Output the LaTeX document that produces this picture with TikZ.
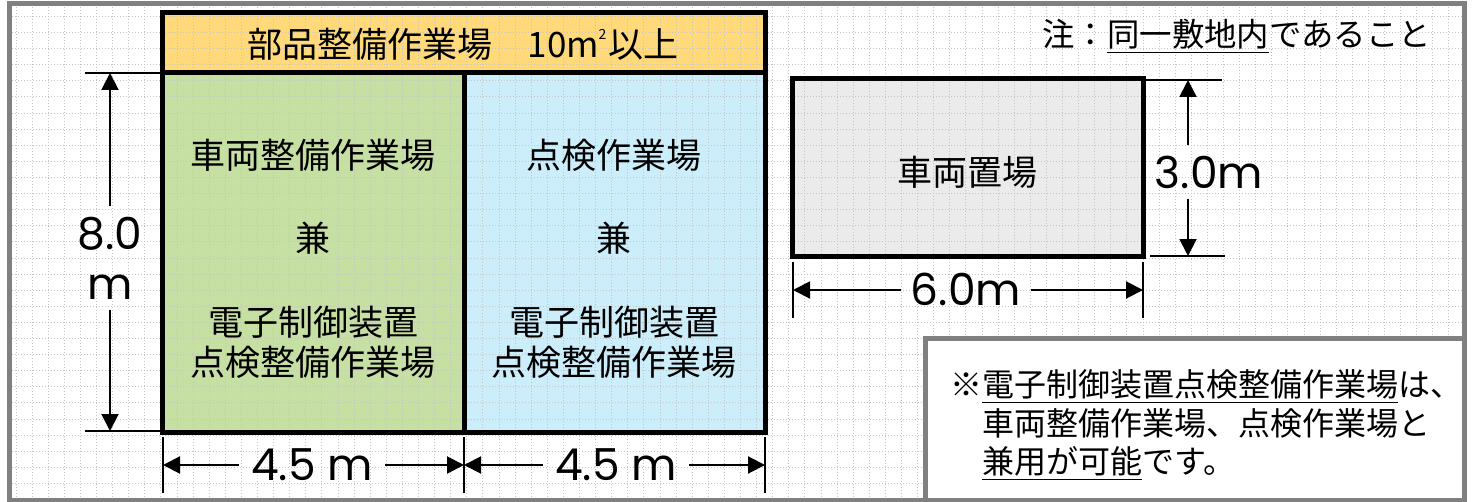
\documentclass[tikz,border=0pt]{standalone}
\usepackage{fontspec}
\setmainfont{Noto Sans CJK JP}
\newfontfamily\numfont{Poppins}
\usetikzlibrary{arrows.meta}
\definecolor{hdr}{HTML}{FFD97A}
\definecolor{grn}{HTML}{C6E0A4}
\definecolor{blu}{HTML}{CCEEFB}
\definecolor{lgray}{HTML}{EBEBEB}
\definecolor{bord}{HTML}{808080}
\definecolor{gridc}{HTML}{C4C4C4}
\begin{document}
\begin{tikzpicture}[x=0.5pt,y=-0.5pt,
  jp/.style={font=\fontsize{17.5}{21}\selectfont, inner sep=0pt},
  notetxt/.style={font=\fontsize{16}{20}\selectfont, inner sep=0pt},
  dimtxt/.style={font=\numfont\fontsize{22}{25}\selectfont, inner xsep=0pt, inner ysep=0pt},
  ext/.style={line width=1pt},
  dimarrow/.style={line width=1pt,-{Triangle[length=8.5pt,width=8.5pt]}},
  gridline/.style={gridc, line width=0.5pt, dash pattern=on 0.6pt off 0.9pt},
  boxline/.style={line width=2.5pt, line cap=rect}]

\useasboundingbox (0,0) rectangle (1475,502);
\fill[white] (0,0) rectangle (1475,502);

% fills
\fill[hdr] (162,13) rectangle (765,73);
\fill[grn] (162,73) rectangle (464,432);
\fill[blu] (464,73) rectangle (765,432);
\fill[lgray] (792,79) rectangle (1143,256);

% background grid
\foreach \i in {0,...,89} \draw[gridline] ({16+16.1*\i},7) -- ({16+16.1*\i},497);
\foreach \j in {0,...,29} \draw[gridline] (12,{16.5+16.1*\j}) -- (1462,{16.5+16.1*\j});

% main box
\draw[boxline] (162,13) rectangle (765,432);
\draw[boxline] (162,73) -- (765,73);
\draw[boxline] (464,73) -- (464,432);
% car box
\draw[boxline] (792,79) rectangle (1143,256);

% texts in boxes
\node[jp] (hdrtxt) at (463,44) {部品整備作業場　10m\kern-0.02em\raisebox{0.52em}{\fontsize{7}{7}\selectfont 2}\kern0.05em 以上};
\node[jp] (g1) at (313,155) {車両整備作業場};
\node[jp] (g2) at (313,238) {兼};
\node[jp] (g3) at (313,322) {電子制御装置};
\node[jp] (g4) at (313,362) {点検整備作業場};
\node[jp] (b1) at (614,155) {点検作業場};
\node[jp] (b2) at (614,238) {兼};
\node[jp] (b3) at (614,322) {電子制御装置};
\node[jp] (b4) at (614,362) {点検整備作業場};
\node[jp] (car) at (967,172) {車両置場};

% 8.0 m dimension
\draw[ext] (85,73) -- (162,73);
\draw[ext] (85,431) -- (162,431);
\coordinate (h8t) at (110,73);
\coordinate (h8b) at (110,431);
\node[dimtxt, align=center, inner ysep=5pt] (h8) at (110,258) {8.0\\m};
\draw[dimarrow] (h8.north) -- (h8t);
\draw[dimarrow] (h8.south) -- (h8b);

% 4.5 m dimensions
\draw[ext] (163,437) -- (163,493);
\draw[ext] (464,437) -- (464,493);
\draw[ext] (765,437) -- (765,493);
\coordinate (w1l) at (163,465);
\coordinate (w1r) at (464,465);
\coordinate (w2l) at (464,465);
\coordinate (w2r) at (765,465);
\node[dimtxt, inner xsep=6pt] (w1) at (312,465) {4.5 m};
\node[dimtxt, inner xsep=6pt] (w2) at (616,465) {4.5 m};
\draw[dimarrow] (w1.west |- w1l) -- (w1l);
\draw[dimarrow] (w1.east |- w1r) -- (w1r);
\draw[dimarrow] (w2.west |- w2l) -- (w2l);
\draw[dimarrow] (w2.east |- w2r) -- (w2r);

% 3.0m dimension
\draw[ext] (1146,80) -- (1222,80);
\draw[ext] (1150,256) -- (1225,256);
\coordinate (v3t) at (1188,80);
\coordinate (v3b) at (1188,256);
\node[dimtxt, inner ysep=5pt] (v3) at (1209,172) {3.0m};
\draw[dimarrow] (v3.north -| v3t) -- (v3t);
\draw[dimarrow] (v3.south -| v3b) -- (v3b);

% 6.0m dimension
\draw[ext] (793,262) -- (793,318);
\draw[ext] (1143,262) -- (1143,318);
\coordinate (h6l) at (793,290);
\coordinate (h6r) at (1143,290);
\node[dimtxt, inner xsep=5pt] (h6) at (966,289) {6.0m};
\draw[dimarrow] (h6.west |- h6l) -- (h6l);
\draw[dimarrow] (h6.east |- h6r) -- (h6r);

% top note
\node[notetxt, font=\fontsize{16.2}{20}\selectfont, anchor=base west] (n0) at (1042,46.5) {注：\underline{同一敷地内}であること};

% note box
\draw[bord, line width=2.5pt, fill=white] (925.5,338.5) rectangle (1464.5,500);
\node[notetxt, anchor=base west] (m1) at (950,396.5) {※\underline{電子制御装置点検整備作業場}は、};
\node[notetxt, anchor=base west] (m2) at (982,435.5) {車両整備作業場、点検作業場と};
\node[notetxt, anchor=base west] (m3) at (982,473.5) {\underline{兼用が可能}です。};

% outer border
\draw[bord, line width=2.5pt] (9.5,4) rectangle (1464.5,500);
\end{tikzpicture}
\end{document}
